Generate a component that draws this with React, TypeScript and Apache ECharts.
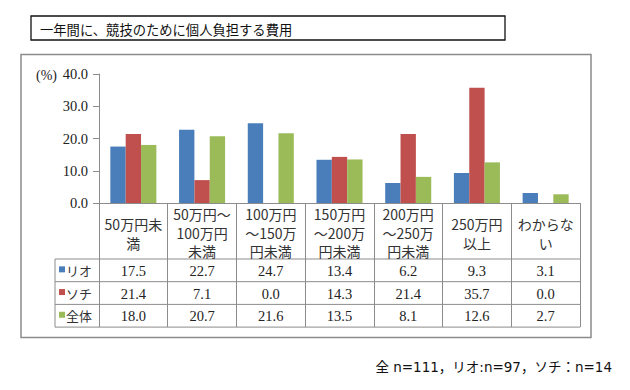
import { useEffect, useRef } from "react";
import * as echarts from "echarts";

const categories = [
  "50万円未\n満",
  "50万円～\n100万円\n未満",
  "100万円\n～150万\n円未満",
  "150万円\n～200万\n円未満",
  "200万円\n～250万\n円未満",
  "250万円\n以上",
  "わからな\nい",
];
const seriesNames = ["リオ", "ソチ", "全体"];
const rioValues = [17.5, 22.7, 24.7, 13.4, 6.2, 9.3, 3.1];
const sochiValues = [21.4, 7.1, 0.0, 14.3, 21.4, 35.7, 0.0];
const totalValues = [18.0, 20.7, 21.6, 13.5, 8.1, 12.6, 2.7];
const yMin = 0;
const yMax = 40;
const yInterval = 10;
const titleText = "一年間に、競技のために個人負担する費用";
const unitText = "(%)";
const footnoteText = "全 n=111，リオ:n=97，ソチ：n=14";

const colors = ["#4A7EBB", "#C0504D", "#9BBB59"];
const SERIF = "'Liberation Serif', 'DejaVu Serif', 'Noto Sans CJK JP', serif";
const SANS = "'Noto Sans CJK JP', 'Noto Sans', sans-serif";
const WIDE = "'DejaVu Sans', 'Noto Sans CJK JP', sans-serif";
const LINE = "#8c8c8c";
const TEXT = "#222";

export default function App() {
  const ref = useRef<HTMLDivElement>(null);
  useEffect(() => {
    document.body.style.margin = "0";
    const chart = echarts.init(ref.current!, null, { renderer: "svg" });
    const gLeft = 99, gTop = 74, gRight = 580, gBottom = 203;
    const headerH = 56, rowH = 22.7, tableLeft = 55;
    const allSeries = [rioValues, sochiValues, totalValues];

    chart.setOption({
      animation: false,
      grid: { left: gLeft, top: gTop, width: gRight - gLeft, height: gBottom - gTop, containLabel: false },
      xAxis: {
        type: "category",
        data: categories,
        boundaryGap: true,
        axisLine: { lineStyle: { color: LINE, width: 1 } },
        axisTick: { show: true, length: headerH + rowH * 3, interval: 0, lineStyle: { color: LINE, width: 1 } },
        axisLabel: {
          interval: 0,
          margin: 2,
          formatter: (v: string) => {
            const lines = v.split("\n");
            const body = lines.map((l) => `{a|${l}}`).join("\n");
            return lines.length === 2 ? `{s| }\n${body}` : body;
          },
          rich: {
            a: { fontFamily: SANS, fontSize: 14, lineHeight: 18.5, color: "#333", align: "center" },
            s: { fontSize: 1, lineHeight: 10 },
          },
        },
      },
      yAxis: {
        type: "value",
        min: yMin,
        max: yMax,
        interval: yInterval,
        splitLine: { show: false },
        axisLine: { show: true, lineStyle: { color: LINE, width: 1 } },
        axisTick: { show: true, length: 6, lineStyle: { color: LINE } },
        axisLabel: {
          margin: 11,
          fontFamily: SERIF,
          fontSize: 14.5,
          color: TEXT,
          formatter: (v: number) => v.toFixed(1),
        },
      },
      series: allSeries.map((d, i) => ({
        name: seriesNames[i],
        type: "bar",
        data: d,
        barGap: "0%",
        barCategoryGap: "33%",
        itemStyle: { color: colors[i] },
      })),
    });

    const graphic: any[] = [];
    graphic.push({
      type: "rect",
      shape: { x: 31, y: 16, width: 474, height: 24 },
      style: { fill: "#fff", stroke: "#111", lineWidth: 1.3 },
      z: 1,
    });
    graphic.push({
      type: "text",
      x: 40,
      y: 29.5,
      style: { text: titleText, fontFamily: SANS, fontSize: 13.3, fill: "#111", verticalAlign: "middle" },
      z: 2,
    });
    graphic.push({
      type: "rect",
      shape: { x: 21, y: 54.5, width: 570, height: 283 },
      style: { fill: "none", stroke: LINE, lineWidth: 1.5 },
      silent: true,
      z: -1,
    });
    graphic.push({
      type: "text",
      x: 36,
      y: 75,
      style: { text: unitText, fontFamily: SERIF, fontSize: 14, fill: TEXT, verticalAlign: "middle" },
    });
    for (let r = 0; r <= 3; r++) {
      const y = gBottom + headerH + rowH * r;
      graphic.push({
        type: "line",
        shape: { x1: tableLeft, y1: y, x2: gRight, y2: y },
        style: { stroke: LINE, lineWidth: 1 },
      });
    }
    graphic.push({
      type: "line",
      shape: { x1: tableLeft, y1: gBottom + headerH, x2: tableLeft, y2: gBottom + headerH + rowH * 3 },
      style: { stroke: LINE, lineWidth: 1 },
    });
    allSeries.forEach((d, r) => {
      const cy = gBottom + headerH + rowH * r + rowH / 2;
      graphic.push({
        type: "rect",
        shape: { x: 59, y: cy - 4, width: 6, height: 6 },
        style: { fill: colors[r] },
      });
      graphic.push({
        type: "text",
        x: 66,
        y: cy,
        style: { text: seriesNames[r], fontFamily: SANS, fontSize: 13, fill: "#333", verticalAlign: "middle" },
      });
      d.forEach((v, i) => {
        const cx = chart.convertToPixel({ xAxisIndex: 0 }, i) as number;
        graphic.push({
          type: "text",
          x: cx,
          y: cy + 0.5,
          style: {
            text: v.toFixed(1),
            fontFamily: SERIF,
            fontSize: 14.5,
            fill: TEXT,
            align: "center",
            verticalAlign: "middle",
          },
        });
      });
    });
    graphic.push({
      type: "text",
      x: 612,
      y: 367,
      style: { text: footnoteText, fontFamily: WIDE, fontSize: 13.5, fill: "#111", align: "right", verticalAlign: "middle" },
    });

    chart.setOption({ graphic });
    return () => chart.dispose();
  }, []);
  return <div ref={ref} style={{ width: 630, height: 390, background: "#fff" }} />;
}
